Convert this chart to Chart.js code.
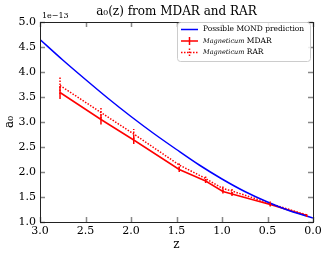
<!DOCTYPE html>
<html><head><meta charset="utf-8">
<script src="https://cdn.jsdelivr.net/npm/chart.js@4/dist/chart.umd.min.js"></script>
<style>html,body{margin:0;padding:0;background:#fff}#wrap{width:328px;height:256px}</style>
</head><body><div id="wrap"><canvas id="c" width="328" height="256"></canvas></div>
<script>
// MOND prediction curve (a0 in units of 1e-13)
const mondZ = [3.0, 2.75, 2.5, 2.25, 2.0, 1.75, 1.5, 1.25, 1.0, 0.75, 0.5, 0.25, 0.0];
const mondA = [4.65, 4.24, 3.85, 3.47, 3.11, 2.77, 2.45, 2.14, 1.86, 1.61, 1.40, 1.22, 1.08];
// Magneticum snapshots
const simZ = [2.78, 2.33, 1.97, 1.47, 1.18, 0.99, 0.89, 0.47, 0.07];
const mdarA = [3.59, 3.05, 2.64, 2.05, 1.82, 1.61, 1.56, 1.35, 1.13];
const mdarErr = [0.13, 0.10, 0.08, 0.05, 0.04, 0.04, 0.04, 0.04, 0.03];
const rarA = [3.73, 3.19, 2.76, 2.14, 1.87, 1.67, 1.62, 1.37, 1.14];
const rarErr = [0.17, 0.12, 0.10, 0.06, 0.05, 0.05, 0.05, 0.04, 0.03];
const xTicks = [3.0, 2.5, 2.0, 1.5, 1.0, 0.5, 0.0];
const yTicks = [1.0, 1.5, 2.0, 2.5, 3.0, 3.5, 4.0, 4.5, 5.0];

const SERIF = '"DejaVu Serif", "Liberation Serif", serif';
const pts = (xs, ys) => xs.map((x, i) => ({x: x, y: ys[i]}));

const decor = {
  id: 'decor',
  afterDatasetsDraw(chart) {
    const ctx = chart.ctx, xs = chart.scales.x, ys = chart.scales.y, a = chart.chartArea;
    ctx.save();
    // error bars
    const eb = (vals, errs, dash) => {
      ctx.strokeStyle = '#ff0000'; ctx.lineWidth = 1.5; ctx.setLineDash(dash);
      simZ.forEach((z, i) => {
        const px = xs.getPixelForValue(z);
        ctx.beginPath();
        ctx.moveTo(px, ys.getPixelForValue(vals[i] - errs[i]));
        ctx.lineTo(px, ys.getPixelForValue(vals[i] + errs[i]));
        ctx.stroke();
      });
    };
    eb(mdarA, mdarErr, []);
    eb(rarA, rarErr, [1.5, 1.5]);
    ctx.setLineDash([]);
    // ticks inward on all four sides
    ctx.strokeStyle = '#888'; ctx.lineWidth = 1.5;
    const L = 5;
    xTicks.forEach(v => {
      const px = Math.round(xs.getPixelForValue(v)) + 0.5;
      ctx.beginPath(); ctx.moveTo(px, a.bottom); ctx.lineTo(px, a.bottom - L);
      ctx.moveTo(px, a.top); ctx.lineTo(px, a.top + L); ctx.stroke();
    });
    yTicks.forEach(v => {
      const py = Math.round(ys.getPixelForValue(v)) + 0.5;
      ctx.beginPath(); ctx.moveTo(a.left, py); ctx.lineTo(a.left + L, py);
      ctx.moveTo(a.right, py); ctx.lineTo(a.right - L, py); ctx.stroke();
    });
    // frame
    ctx.strokeStyle = '#222'; ctx.lineWidth = 1;
    ctx.strokeRect(Math.round(a.left) + 0.5, Math.round(a.top) + 0.5,
                   Math.round(a.right - a.left), Math.round(a.bottom - a.top));
    // title
    ctx.fillStyle = '#000'; ctx.textBaseline = 'alphabetic'; ctx.textAlign = 'center';
    ctx.font = '12px ' + SERIF;
    ctx.fillText('a\u2080(z) from MDAR and RAR', (a.left + a.right) / 2, 15);
    // offset text
    ctx.textAlign = 'left'; ctx.font = '8px ' + SERIF;
    ctx.fillText('1e\u221213', a.left + 2, 18);
    // axis labels
    ctx.textAlign = 'center'; ctx.font = '12px ' + SERIF;
    ctx.fillText('z', (a.left + a.right) / 2, 248);
    ctx.save(); ctx.translate(13, (a.top + a.bottom) / 2); ctx.rotate(-Math.PI / 2);
    ctx.fillText('a\u2080', 0, 0); ctx.restore();
    // legend
    const lx = 177, ly = 22, lw = 133, lh = 39;
    ctx.fillStyle = 'rgba(255,255,255,0.85)'; ctx.strokeStyle = '#ccc'; ctx.lineWidth = 1;
    ctx.beginPath(); ctx.roundRect(lx + 0.5, ly + 0.5, lw, lh, 3); ctx.fill(); ctx.stroke();
    const rows = [29.5, 41, 52.5];
    const sx0 = 181, sx1 = 198;
    ctx.lineWidth = 1.5;
    ctx.strokeStyle = '#0000ff';
    ctx.beginPath(); ctx.moveTo(sx0, rows[0]); ctx.lineTo(sx1, rows[0]); ctx.stroke();
    ctx.strokeStyle = '#ff0000';
    ctx.beginPath(); ctx.moveTo(sx0, rows[1]); ctx.lineTo(sx1, rows[1]);
    ctx.moveTo((sx0 + sx1) / 2, rows[1] - 4); ctx.lineTo((sx0 + sx1) / 2, rows[1] + 4); ctx.stroke();
    ctx.setLineDash([1.5, 1.5]);
    ctx.beginPath(); ctx.moveTo(sx0, rows[2]); ctx.lineTo(sx1, rows[2]);
    ctx.moveTo((sx0 + sx1) / 2, rows[2] - 4); ctx.lineTo((sx0 + sx1) / 2, rows[2] + 4); ctx.stroke();
    ctx.setLineDash([]);
    ctx.fillStyle = '#000'; ctx.textAlign = 'left'; ctx.textBaseline = 'middle';
    const tx = 203;
    ctx.font = '7.5px ' + SERIF;
    ctx.fillText('Possible MOND prediction', tx, rows[0]);
    [['Magneticum', ' MDAR', rows[1]], ['Magneticum', ' RAR', rows[2]]].forEach(r => {
      ctx.font = 'italic 6.5px ' + SERIF;
      ctx.fillText(r[0], tx, r[2]);
      const w = ctx.measureText(r[0]).width;
      ctx.font = '7.5px ' + SERIF;
      ctx.fillText(r[1], tx + w, r[2]);
    });
    ctx.restore();
  }
};

new Chart(document.getElementById('c'), {
  type: 'scatter',
  data: {
    datasets: [
      {label: 'Possible MOND prediction', data: pts(mondZ, mondA), showLine: true,
       borderColor: '#0000ff', borderWidth: 1.5, pointRadius: 0, cubicInterpolationMode: 'monotone'},
      {label: 'Magneticum MDAR', data: pts(simZ, mdarA), showLine: true,
       borderColor: '#ff0000', borderWidth: 1.5, pointRadius: 0},
      {label: 'Magneticum RAR', data: pts(simZ, rarA), showLine: true,
       borderColor: '#ff0000', borderWidth: 1.5, borderDash: [1.5, 1.5], pointRadius: 0}
    ]
  },
  options: {
    responsive: false, animation: false, devicePixelRatio: 1,
    layout: {padding: {top: 22, right: 15, left: 0, bottom: 0}},
    plugins: {legend: {display: false}, title: {display: false}, tooltip: {enabled: false}},
    scales: {
      x: {type: 'linear', reverse: true, min: 0, max: 3,
          grid: {display: false, drawTicks: false}, border: {display: false},
          afterBuildTicks: s => { s.ticks = xTicks.map(v => ({value: v})); },
          afterFit: s => { s.height = 34; },
          ticks: {padding: 3, color: '#000', font: {family: SERIF, size: 11},
                  maxRotation: 0, callback: v => v.toFixed(1)}},
      y: {type: 'linear', min: 1, max: 5,
          grid: {display: false, drawTicks: false}, border: {display: false},
          afterBuildTicks: s => { s.ticks = yTicks.map(v => ({value: v})); },
          afterFit: s => { s.width = 40; },
          ticks: {padding: 4, color: '#000', font: {family: SERIF, size: 11},
                  callback: v => v.toFixed(1)}}
    }
  },
  plugins: [decor]
});
</script></body></html>
